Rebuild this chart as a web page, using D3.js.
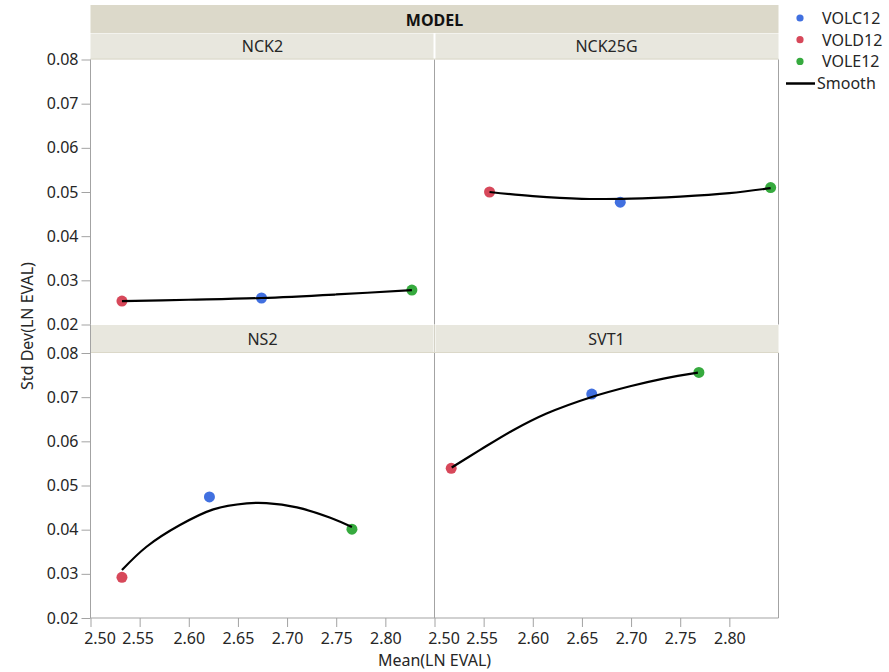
<!DOCTYPE html>
<html>
<head>
<meta charset="utf-8">
<script src="https://cdn.jsdelivr.net/npm/d3@7/dist/d3.min.js"></script>
<style>
  html, body { margin: 0; padding: 0; background: #fff; }
  svg { display: block; font-family: "Noto Sans", "Open Sans", sans-serif; }
</style>
</head>
<body>
<svg id="chart" width="889" height="672"></svg>
<script>
// Facet panels (MODEL), laid out row by row
const models = ["NCK2", "NCK25G", "NS2", "SVT1"];
const groups = ["VOLC12", "VOLD12", "VOLE12"];
const groupColors = ["#4170e0", "#d7485a", "#36aa3e"];

// Mean(LN EVAL) per group, in model order
const meanVOLC12 = [2.674, 2.689, 2.621, 2.660];
const meanVOLD12 = [2.532, 2.556, 2.532, 2.517];
const meanVOLE12 = [2.827, 2.842, 2.766, 2.769];

// Std Dev(LN EVAL) per group, in model order
const sdVOLC12 = [0.0260, 0.0477, 0.0474, 0.0707];
const sdVOLD12 = [0.0253, 0.0500, 0.0292, 0.0539];
const sdVOLE12 = [0.0278, 0.0510, 0.0401, 0.0756];

// Smoother curves, [mean, std dev] pairs per model
const smoothNCK2 = [[2.532, 0.02530], [2.600, 0.02560], [2.674, 0.02600], [2.750, 0.02680], [2.827, 0.02780]];
const smoothNCK25G = [[2.556, 0.05000], [2.600, 0.04906], [2.650, 0.04845], [2.700, 0.04851], [2.750, 0.04897], [2.800, 0.04974], [2.842, 0.05088]];
const smoothNS2 = [[2.532, 0.03086], [2.557, 0.03613], [2.591, 0.04104], [2.625, 0.04459], [2.659, 0.04594], [2.679, 0.04601], [2.710, 0.04504], [2.744, 0.04269], [2.766, 0.04058]];
const smoothSVT1 = [[2.5175, 0.05408], [2.546, 0.05800], [2.580, 0.06252], [2.614, 0.06630], [2.660, 0.07005], [2.699, 0.07247], [2.733, 0.07421], [2.768, 0.07557]];

// Axis ticks
const xTicks = [2.50, 2.55, 2.60, 2.65, 2.70, 2.75, 2.80];
const yTicks = [0.02, 0.03, 0.04, 0.05, 0.06, 0.07, 0.08];
const xDomain = [2.50, 2.85];
const yDomain = [0.02, 0.08];

const meanByGroup = [meanVOLC12, meanVOLD12, meanVOLE12];
const sdByGroup = [sdVOLC12, sdVOLD12, sdVOLE12];
const smoothByModel = [smoothNCK2, smoothNCK25G, smoothNS2, smoothSVT1];

// Layout
const left = 90.5, panelW = 344, panelH = 265;
const rowTops = [59.5, 353];
const headTop = 5, headH = 28, subH = 26;
const axisGray = "#a3a3a3";
const textColor = "#262626";

const svg = d3.select("#chart");

// Header: MODEL band
svg.append("rect")
  .attr("x", left).attr("y", headTop)
  .attr("width", panelW * 2).attr("height", headH)
  .attr("fill", "#dcd9ca");
svg.append("text")
  .attr("x", left + panelW).attr("y", headTop + headH / 2 + 0.5)
  .attr("text-anchor", "middle").attr("dominant-baseline", "central")
  .attr("font-size", 16).attr("font-weight", "bold").attr("fill", "#111")
  .text("MODEL");

const line = d3.line().curve(d3.curveCatmullRom.alpha(0.5));

models.forEach((m, i) => {
  const col = i % 2, row = Math.floor(i / 2);
  const x0 = left + col * panelW;
  const y0 = rowTops[row];
  const x = d3.scaleLinear().domain(xDomain).range([x0, x0 + panelW]);
  const y = d3.scaleLinear().domain(yDomain).range([y0 + panelH, y0]);

  // Panel label strip
  const stripTop = row === 0 ? headTop + headH : rowTops[0] + panelH;
  const stripH = y0 - stripTop;
  svg.append("rect")
    .attr("x", x0 + (col ? 1 : 0)).attr("y", stripTop + 0.5)
    .attr("width", panelW - 1).attr("height", stripH - 0.5)
    .attr("fill", "#e8e7de");
  svg.append("line")
    .attr("x1", x0).attr("x2", x0 + panelW)
    .attr("y1", y0 - 0.5).attr("y2", y0 - 0.5)
    .attr("stroke", "#dbd8c9");
  svg.append("text")
    .attr("x", x0 + panelW / 2).attr("y", stripTop + stripH / 2)
    .attr("text-anchor", "middle").attr("dominant-baseline", "central")
    .attr("font-size", 16).attr("fill", textColor)
    .text(m);

  // Panel borders
  svg.append("line")
    .attr("x1", x0 + panelW).attr("x2", x0 + panelW)
    .attr("y1", y0).attr("y2", y0 + panelH)
    .attr("stroke", axisGray);

  // Y axis on the left column
  if (col === 0) {
    const ya = svg.append("g")
      .attr("transform", `translate(${x0},0)`)
      .call(d3.axisLeft(y).tickValues(yTicks).tickFormat(d3.format(".2f")).tickSize(9).tickPadding(3));
    ya.select(".domain").remove();
    ya.selectAll(".tick line").attr("stroke", axisGray);
    ya.selectAll(".tick text").attr("font-size", 16).attr("fill", textColor)
      .attr("font-family", "Noto Sans, sans-serif");
    svg.append("line")
      .attr("x1", x0).attr("x2", x0)
      .attr("y1", y0).attr("y2", y0 + panelH)
      .attr("stroke", axisGray);
  }

  // X axis on the bottom row
  if (row === 1) {
    const xa = svg.append("g")
      .attr("transform", `translate(0,${y0 + panelH})`)
      .call(d3.axisBottom(x).tickValues(xTicks).tickFormat(d3.format(".2f")).tickSize(9).tickPadding(6));
    xa.select(".domain").remove();
    xa.selectAll(".tick line").attr("stroke", axisGray);
    xa.selectAll(".tick text").attr("font-size", 16).attr("fill", textColor)
      .attr("font-family", "Noto Sans, sans-serif")
      .attr("dx", (d, k) => k === 0 ? 9 : (k === 1 ? -2 : 0));
    svg.append("line")
      .attr("x1", x0).attr("x2", x0 + panelW)
      .attr("y1", y0 + panelH).attr("y2", y0 + panelH)
      .attr("stroke", axisGray);
  }

  // Points
  groups.forEach((g, k) => {
    svg.append("circle")
      .attr("cx", x(meanByGroup[k][i]))
      .attr("cy", y(sdByGroup[k][i]))
      .attr("r", 5.5)
      .attr("fill", groupColors[k]);
  });

  // Smoother
  svg.append("path")
    .attr("d", line(smoothByModel[i].map(p => [x(p[0]), y(p[1])])))
    .attr("fill", "none")
    .attr("stroke", "#000")
    .attr("stroke-width", 2.2);
});

// Left-column axis line continues through the lower strip
svg.append("line")
  .attr("x1", left).attr("x2", left)
  .attr("y1", rowTops[0] + panelH).attr("y2", rowTops[1])
  .attr("stroke", axisGray);
svg.append("line")
  .attr("x1", left + panelW).attr("x2", left + panelW)
  .attr("y1", rowTops[0] + panelH).attr("y2", rowTops[1])
  .attr("stroke", "#d4d2c6");

// Axis titles
svg.append("text")
  .attr("x", left + panelW).attr("y", 660)
  .attr("text-anchor", "middle").attr("dominant-baseline", "central")
  .attr("font-size", 16).attr("fill", textColor)
  .text("Mean(LN EVAL)");
svg.append("text")
  .attr("transform", "translate(27,326) rotate(-90)")
  .attr("text-anchor", "middle").attr("dominant-baseline", "central")
  .attr("font-size", 16).attr("fill", textColor)
  .text("Std Dev(LN EVAL)");

// Legend
const legend = svg.append("g");
groups.forEach((g, k) => {
  const ly = 18 + k * 21.7;
  legend.append("circle").attr("cx", 800).attr("cy", ly).attr("r", 3.6).attr("fill", groupColors[k]);
  legend.append("text").attr("x", 822).attr("y", ly)
    .attr("dominant-baseline", "central").attr("font-size", 16).attr("fill", textColor)
    .text(g);
});
legend.append("line")
  .attr("x1", 786).attr("x2", 815).attr("y1", 83.5).attr("y2", 83.5)
  .attr("stroke", "#000").attr("stroke-width", 2.5);
legend.append("text").attr("x", 817).attr("y", 83)
  .attr("dominant-baseline", "central").attr("font-size", 16).attr("fill", textColor)
  .text("Smooth");
</script>
</body>
</html>
